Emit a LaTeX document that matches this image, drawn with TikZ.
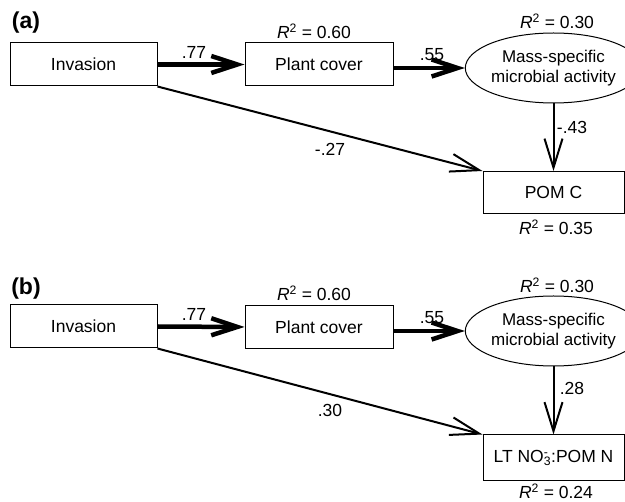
\documentclass[tikz,border=0pt]{standalone}
\usepackage{fontspec}
\setmainfont{Liberation Sans}
\usetikzlibrary{arrows.meta,shapes.geometric}
\begin{document}
\begin{tikzpicture}[x=1pt,y=-1pt,
  every node/.style={font=\fontsize{17.5}{20}\selectfont, inner sep=0pt},
  box/.style={draw, line width=1pt, rectangle},
  ell/.style={draw, line width=1pt, ellipse, minimum width=140pt, minimum height=70pt, align=center, font=\fontsize{17}{20}\selectfont},
  panel/.style={font=\fontsize{23}{26}\selectfont\bfseries},
  thickarr/.style={line width=4.5pt, -{Straight Barb[length=26pt,width=17pt]}},
  thinarr/.style={line width=2pt, -{Straight Barb[length=29pt,width=18pt]}}]
\useasboundingbox (0,0) rectangle (625,502);
% ---------- panel (a)
\node[panel] (pa) at (26,23) {(a)};
\node[box, minimum width=147pt, minimum height=43pt] (ainv) at (83.5,64.5) {Invasion};
\node[box, minimum width=148pt, minimum height=43pt] (apc) at (319,64.5) {Plant cover};
\node[ell] (aell) at (553.5,68) {Mass-specific\\microbial activity};
\node[box, minimum width=141pt, minimum height=42pt] (apom) at (553.5,192.5) {POM C};
\node (ar1) at (314,31) {\textit{R}\textsuperscript{2} = 0.60};
\node (ar2) at (557,21) {\textit{R}\textsuperscript{2} = 0.30};
\node (ar3) at (556,227) {\textit{R}\textsuperscript{2} = 0.35};
\draw[thickarr] (ainv.east) -- (apc.west);
\draw[thickarr] (apc.east |- aell.west) -- (aell.west);
\draw[thinarr] (aell.south) -- (aell.south |- apom.north);
\draw[thinarr] (ainv.south east) -- (apom.north west);
\node (al1) at (194,52) {.77};
\node (al2) at (432,55) {.55};
\node (al3) at (572,127) {-.43};
\node (al4) at (330,149) {-.27};
% ---------- panel (b)
\node[panel] (pb) at (26,289) {(b)};
\node[box, minimum width=147pt, minimum height=43pt] (binv) at (83.5,326.5) {Invasion};
\node[box, minimum width=148pt, minimum height=43pt] (bpc) at (319,327) {Plant cover};
\node[ell] (bell) at (553.5,331) {Mass-specific\\microbial activity};
\node[box, minimum width=141pt, minimum height=46pt] (bpom) at (553.5,458) {LT NO\rlap{\textsuperscript{-}}\textsubscript{3}:POM N};
\node (br1) at (314,293) {\textit{R}\textsuperscript{2} = 0.60};
\node (br2) at (557,285) {\textit{R}\textsuperscript{2} = 0.30};
\node (br3) at (556,491) {\textit{R}\textsuperscript{2} = 0.24};
\draw[thickarr] (binv.east) -- (bpc.west);
\draw[thickarr] (bpc.east |- bell.west) -- (bell.west);
\draw[thinarr] (bell.south) -- (bell.south |- bpom.north);
\draw[thinarr] (binv.south east) -- (bpom.north west);
\node (bl1) at (194,314) {.77};
\node (bl2) at (432,318) {.55};
\node (bl3) at (572,388) {.28};
\node (bl4) at (330,410) {.30};
\end{tikzpicture}
\end{document}
